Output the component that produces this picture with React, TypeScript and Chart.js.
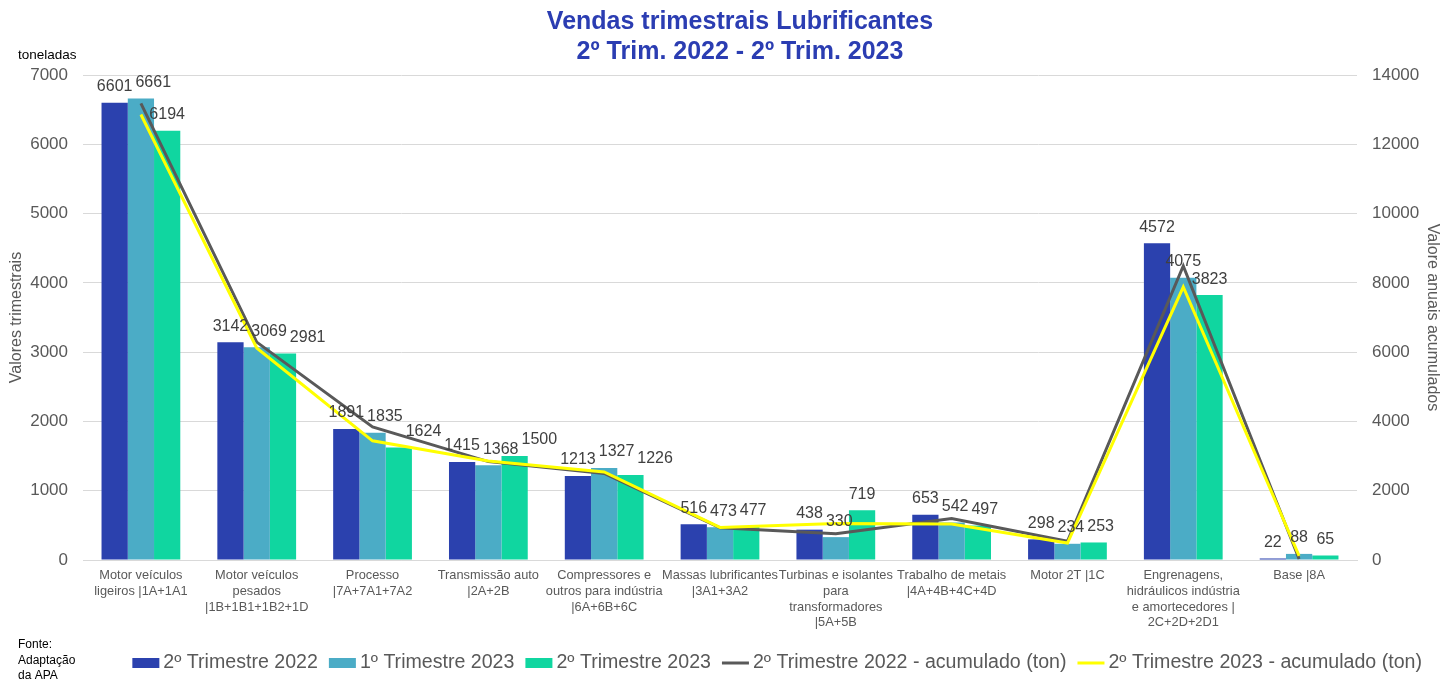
import React, { useEffect, useRef } from "react";
import { Chart, registerables } from "chart.js";

Chart.register(...registerables);

const categories: string[][] = [
  ["Motor veículos", "ligeiros |1A+1A1"],
  ["Motor veículos", "pesados", "|1B+1B1+1B2+1D"],
  ["Processo", "|7A+7A1+7A2"],
  ["Transmissão auto", "|2A+2B"],
  ["Compressores e", "outros para indústria", "|6A+6B+6C"],
  ["Massas lubrificantes", "|3A1+3A2"],
  ["Turbinas e isolantes", "para", "transformadores", "|5A+5B"],
  ["Trabalho de metais", "|4A+4B+4C+4D"],
  ["Motor 2T |1C"],
  ["Engrenagens,", "hidráulicos indústria", "e amortecedores |", "2C+2D+2D1"],
  ["Base |8A"],
];

const q2_2022 = [6601, 3142, 1891, 1415, 1213, 516, 438, 653, 298, 4572, 22];
const q1_2023 = [6661, 3069, 1835, 1368, 1327, 473, 330, 542, 234, 4075, 88];
const q2_2023 = [6194, 2981, 1624, 1500, 1226, 477, 719, 497, 253, 3823, 65];
const acc2022 = [13180, 6290, 3840, 2840, 2500, 930, 760, 1200, 540, 8490, 30];
const acc2023 = [12860, 6120, 3440, 2860, 2540, 940, 1050, 1040, 490, 7880, 120];

const leftTicks = [0, 1000, 2000, 3000, 4000, 5000, 6000, 7000];
const rightTicks = [0, 2000, 4000, 6000, 8000, 10000, 12000, 14000];

const titleLines = ["Vendas trimestrais Lubrificantes", "2º Trim. 2022 - 2º Trim. 2023"];

const FONT = '"Liberation Sans", Arial, sans-serif';
const GREY_TEXT = "#595959";

const barLabelPlugin = {
  id: "barLabels",
  afterDatasetsDraw(chart: any) {
    const ctx = chart.ctx;
    ctx.save();
    ctx.font = `16px ${FONT}`;
    ctx.fillStyle = "#404040";
    ctx.textAlign = "center";
    ctx.textBaseline = "bottom";
    const barSets: number[] = [];
    chart.data.datasets.forEach((ds: any, di: number) => {
      if (ds.type === "bar") barSets.push(di);
    });
    const n = chart.data.labels.length;
    for (let i = 0; i < n; i++) {
      const placed: { x: number; y: number; w: number; t: string }[] = [];
      barSets.forEach((di) => {
        const el = chart.getDatasetMeta(di).data[i];
        const t = String(chart.data.datasets[di].data[i]);
        const w = ctx.measureText(t).width;
        let x = el.x;
        const y = el.y - 8;
        placed.forEach((p) => {
          if (Math.abs(p.y - y) < 17 && x - p.x < (w + p.w) / 2 + 3) {
            x = p.x + (w + p.w) / 2 + 3;
          }
        });
        placed.push({ x, y, w, t });
      });
      placed.forEach((p) => ctx.fillText(p.t, p.x, p.y));
    }
    ctx.restore();
  },
};

const textPlugin = {
  id: "extraTexts",
  afterDraw(chart: any) {
    const ctx = chart.ctx;
    const W = chart.width;
    ctx.save();
    // title
    ctx.fillStyle = "#2B3DB2";
    ctx.font = `bold 25px ${FONT}`;
    ctx.textAlign = "center";
    ctx.textBaseline = "middle";
    const cx = (chart.chartArea.left + chart.chartArea.right) / 2 + 20;
    ctx.fillText(titleLines[0], cx, 22);
    ctx.fillText(titleLines[1], cx, 52);

    ctx.fillStyle = "#000000";
    ctx.textAlign = "left";
    ctx.font = `13.5px ${FONT}`;
    ctx.fillText("toneladas", 18, 55);
    ctx.font = `12px ${FONT}`;
    ctx.fillText("Fonte:", 18, 645);
    ctx.fillText("Adaptação", 18, 661);
    ctx.fillText("da APA", 18, 676);

    // legend
    ctx.font = `19.6px ${FONT}`;
    const items = chart.data.datasets.map((ds: any) => ({
      text: ds.label,
      color: ds.type === "line" ? ds.borderColor : ds.backgroundColor,
      line: ds.type === "line",
    }));
    const symW = 27;
    const gapIn = 4;
    const gapOut = 11;
    let total = 0;
    items.forEach((it: any, k: number) => {
      it.w = ctx.measureText(it.text).width;
      total += symW + gapIn + it.w + (k < items.length - 1 ? gapOut : 0);
    });
    let x = W - 20 - total;
    const y = 663;
    items.forEach((it: any) => {
      if (it.line) {
        ctx.strokeStyle = it.color;
        ctx.lineWidth = 3;
        ctx.beginPath();
        ctx.moveTo(x, y);
        ctx.lineTo(x + symW, y);
        ctx.stroke();
      } else {
        ctx.fillStyle = it.color;
        ctx.fillRect(x, y - 5, symW, 10);
      }
      x += symW + gapIn;
      ctx.fillStyle = GREY_TEXT;
      ctx.fillText(it.text, x, y);
      x += it.w + gapOut;
    });
    ctx.restore();
  },
};

export default function App() {
  const ref = useRef<HTMLCanvasElement | null>(null);

  useEffect(() => {
    if (!ref.current) return;
    const chart = new Chart(ref.current, {
      type: "bar",
      data: {
        labels: categories,
        datasets: [
          {
            type: "bar",
            label: "2º Trimestre 2022",
            data: q2_2022,
            backgroundColor: "#2B41AE",
            yAxisID: "y",
            categoryPercentage: 0.68,
            barPercentage: 1,
            order: 2,
          },
          {
            type: "bar",
            label: "1º Trimestre 2023",
            data: q1_2023,
            backgroundColor: "#4BACC6",
            yAxisID: "y",
            categoryPercentage: 0.68,
            barPercentage: 1,
            order: 2,
          },
          {
            type: "bar",
            label: "2º Trimestre 2023",
            data: q2_2023,
            backgroundColor: "#10D6A0",
            yAxisID: "y",
            categoryPercentage: 0.68,
            barPercentage: 1,
            order: 2,
          },
          {
            type: "line",
            label: "2º Trimestre 2022 - acumulado (ton)",
            data: acc2022,
            borderColor: "#595959",
            backgroundColor: "#595959",
            borderWidth: 3,
            pointRadius: 0,
            tension: 0,
            yAxisID: "y1",
            order: 1,
          },
          {
            type: "line",
            label: "2º Trimestre 2023 - acumulado (ton)",
            data: acc2023,
            borderColor: "#FFFF00",
            backgroundColor: "#FFFF00",
            borderWidth: 3,
            pointRadius: 0,
            tension: 0,
            yAxisID: "y1",
            order: 0,
          },
        ] as any,
      },
      options: {
        responsive: false,
        animation: false,
        layout: { padding: { top: 75, bottom: 38, left: 0, right: 0 } },
        plugins: {
          title: { display: false },
          legend: { display: false },
          tooltip: { enabled: false },
        },
        scales: {
          x: {
            grid: { display: false, drawTicks: false },
            border: { display: true, color: "#D9D9D9" },
            ticks: {
              autoSkip: false,
              maxRotation: 0,
              minRotation: 0,
              padding: 8,
              color: GREY_TEXT,
              font: { size: 12.8, family: FONT, lineHeight: 1.22 },
            },
            afterFit(scale: any) {
              scale.height = 81;
            },
          },
          y: {
            position: "left",
            min: 0,
            max: 7000,
            afterBuildTicks(scale: any) {
              scale.ticks = leftTicks.map((v) => ({ value: v }));
            },
            grid: { color: "#D9D9D9", drawTicks: false },
            border: { display: false },
            ticks: {
              padding: 15,
              color: GREY_TEXT,
              font: { size: 17, family: FONT },
              callback: (v: any) => String(v),
            },
            title: {
              display: true,
              text: "Valores trimestrais",
              color: GREY_TEXT,
              font: { size: 16, family: FONT },
              padding: { top: 7, bottom: 0 },
            },
            afterFit(scale: any) {
              scale.width = 83;
            },
          },
          y1: {
            position: "right",
            min: 0,
            max: 14000,
            afterBuildTicks(scale: any) {
              scale.ticks = rightTicks.map((v) => ({ value: v }));
            },
            grid: { display: false, drawTicks: false },
            border: { display: false },
            ticks: {
              padding: 15,
              color: GREY_TEXT,
              font: { size: 17, family: FONT },
              callback: (v: any) => String(v),
            },
            title: {
              display: true,
              text: "Valore anuais acumulados",
              color: GREY_TEXT,
              font: { size: 16, family: FONT },
              padding: { top: 0, bottom: 0 },
            },
            afterFit(scale: any) {
              scale.width = 85;
            },
          },
        },
      } as any,
      plugins: [barLabelPlugin, textPlugin],
    });
    return () => chart.destroy();
  }, []);

  return (
    <div style={{ position: "absolute", left: 0, top: 0, width: 1442, height: 679, background: "#fff" }}>
      <canvas ref={ref} width={1442} height={679} style={{ display: "block" }} />
    </div>
  );
}
